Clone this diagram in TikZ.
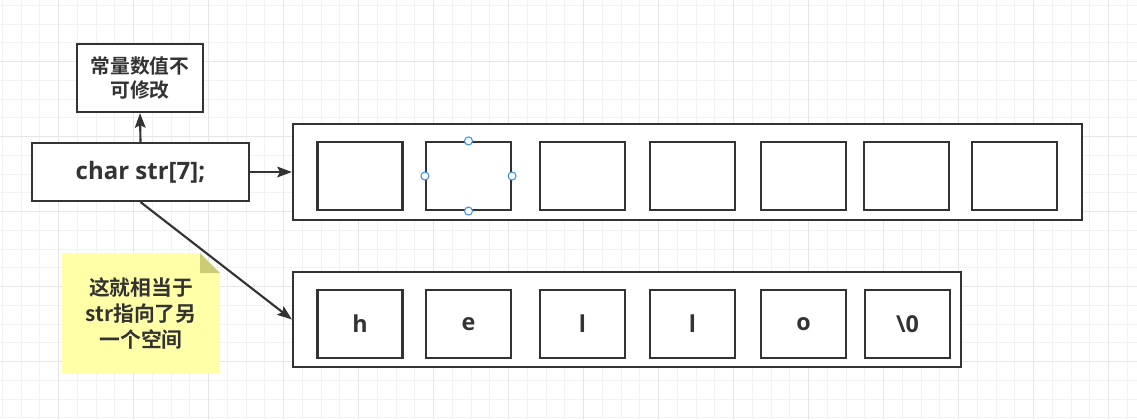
\documentclass[tikz,border=0pt]{standalone}
\usepackage{fontspec}
\setmainfont{Open Sans}[BoldFont={Open Sans Bold}]
\newfontfamily\cjk{Noto Sans CJK SC}[BoldFont={Noto Sans CJK SC Bold}]
\usetikzlibrary{arrows.meta}
\definecolor{ink}{HTML}{333333}
\definecolor{gridminor}{HTML}{F2F2F2}
\definecolor{gridmajor}{HTML}{E6E6E6}
\definecolor{notefill}{HTML}{FFFFA8}
\definecolor{notefold}{HTML}{CCCC77}
\definecolor{handle}{HTML}{3D8FEF}
\tikzset{
  box/.style={draw=ink, line width=1.6pt, fill=white, inner sep=0pt, text=ink, font=\bfseries},
  cell/.style={box, minimum width=85*0.75pt, minimum height=68*0.75pt, font=\bfseries\fontsize{17.5}{20}\selectfont},
  conn/.style={draw=ink, line width=1.6pt, -{Stealth[length=11pt,width=8pt,inset=2pt]}},
  hnd/.style={draw=handle, fill=white, line width=0.8pt},
}
\begin{document}
\begin{tikzpicture}[x=0.75pt,y=-0.75pt]
\useasboundingbox (0,0) rectangle (1137,419);
\fill[white] (0,0) rectangle (1137,419);
\foreach \i in {0,...,60} {\draw[gridminor, line width=0.75pt] ({2.45+18.75*\i},0) -- ({2.45+18.75*\i},419);}
\foreach \i in {0,...,22} {\draw[gridminor, line width=0.75pt] (0,{5.45+18.75*\i}) -- (1137,{5.45+18.75*\i});}
\foreach \i in {0,...,14} {\draw[gridmajor, line width=0.75pt] ({58.7+75*\i},0) -- ({58.7+75*\i},419);}
\foreach \i in {0,...,5} {\draw[gridmajor, line width=0.75pt] (0,{61.7+75*\i}) -- (1137,{61.7+75*\i});}

% labels
\node[box, minimum width=126*0.75pt, minimum height=68*0.75pt, align=center, font=\cjk\bfseries\fontsize{14.8}{18}\selectfont] (top) at (140,78) {常量数值不\\可修改};
\node[box, minimum width=217*0.75pt, minimum height=58*0.75pt, font=\bfseries\fontsize{18}{20}\selectfont] (cs) at (140.5,172) {char str[7];};

% upper array
\node[box, minimum width=789*0.75pt, minimum height=96*0.75pt] (upper) at (687.5,172) {};
\foreach \n/\x in {1/360,2/468.5,3/582.5,4/692.5,5/803.5,6/906.5,7/1014.5}
  {\node[cell] (u\n) at (\x,176) {};}

% lower array
\node[box, minimum width=668*0.75pt, minimum height=95*0.75pt] (lower) at (627,319.5) {};
\foreach \n/\x/\t in {1/360/h,2/468.5/e,3/582.5/l,4/692.5/l,5/803.5/o,6/907.5/\textbackslash 0}
  {\node[cell] (l\n) at (\x,324) {\t};}

% handles
\foreach \a in {north,south,east,west} {\draw[hnd] (u2.\a) circle (4);}

% note
\fill[notefill] (62,253) -- (200,253) -- (220,273) -- (220,373) -- (62,373) -- cycle;
\fill[notefold] (200,253) -- (220,273) -- (200,273) -- cycle;
\node[text=ink, align=center, font=\cjk\bfseries\fontsize{15.6}{19.5}\selectfont] (note) at (141,313) {这就相当于\\str指向了另\\一个空间};

% connectors
\draw[conn] (cs.north) -- (top.south);
\draw[conn] (cs.east) -- (upper.west);
\draw[conn] (cs.south) -- (lower.west);
\end{tikzpicture}
\end{document}
